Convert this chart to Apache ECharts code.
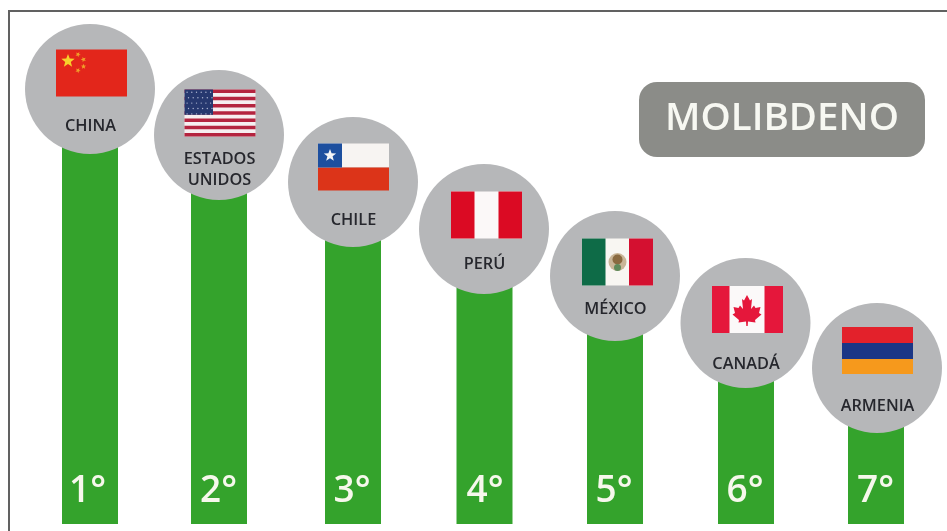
<!DOCTYPE html>
<html>
<head>
<meta charset="utf-8">
<style>
  html, body { margin: 0; padding: 0; background: #fff; }
  #chart { width: 947px; height: 531px; }
</style>
<script src="https://cdn.jsdelivr.net/npm/echarts@6/dist/echarts.min.js"></script>
</head>
<body>
<div id="chart"></div>
<script>
// the picture has no value scale, these are bar heights read off it
var countries = ['CHINA', 'ESTADOS\nUNIDOS', 'CHILE', 'PERÚ', 'MÉXICO', 'CANADÁ', 'ARMENIA'];
var flags = ['china', 'usa', 'chile', 'peru', 'mexico', 'canada', 'armenia'];
var ranks = ['1°', '2°', '3°', '4°', '5°', '6°', '7°'];
var heights = [435, 389, 342, 295, 248, 201, 156];
var title = 'MOLIBDENO';

// layout of the badges, the original is hand placed so the columns are not quite even
var nudgeX = [0, -2, 1, 1.5, 1, 1, 0];
var circleNudgeX = [0, 0, 0, -0.5, 0, -0.5, 1];
var flagLeft = [-34, -34.5, -35, -33, -33, -33.5, -35];
var flagTop = [-39.5, -45.5, -38.5, -37.5, -37.5, -37, -41];
var labelY = [37.5, 35, 38.5, 35.5, 33.5, 41, 38.5];
var rankNudge = [-1.5, 0.5, 0, 1.5, 0, 0, 0.5];

var green = '#34a32c';
var grey = '#b6b7b9';
var FLAG_W = 71;
var FLAG_H = 47;

function rect(x, y, w, h, fill) {
  return { type: 'rect', shape: { x: x, y: y, width: w, height: h }, style: { fill: fill } };
}

function star(cx, cy, r, fill, rot) {
  var pts = [];
  for (var i = 0; i < 10; i++) {
    var rr = i % 2 ? r * 0.42 : r;
    var a = -Math.PI / 2 + (rot || 0) + i * Math.PI / 5;
    pts.push([cx + rr * Math.cos(a), cy + rr * Math.sin(a)]);
  }
  return { type: 'polygon', shape: { points: pts }, style: { fill: fill } };
}

function dot(cx, cy, r, fill) {
  return { type: 'circle', shape: { cx: cx, cy: cy, r: r }, style: { fill: fill } };
}

// flag drawings, origin is the top left corner of the flag
var flagDraw = {
  china: function () {
    var yellow = '#f7d02c', red = '#e3261b';
    return [
      rect(0, 0, FLAG_W, FLAG_H, red),
      star(12, 11.5, 7, yellow),
      star(22, 5, 2.8, '#f0a02a', 0.5),
      star(27.5, 10, 2.8, '#f0a02a', 0.9),
      star(27.5, 17, 2.8, '#f0a02a', 0),
      star(22, 21, 2.8, '#f0a02a', 0.5)
    ];
  },
  usa: function () {
    var out = [rect(0, 0, FLAG_W, FLAG_H, '#f6eef0')];
    var sh = FLAG_H / 13;
    for (var i = 0; i < 13; i += 2) {
      out.push(rect(0, i * sh, FLAG_W, sh, '#b4243f'));
    }
    out.push(rect(0, 0, 28.5, sh * 7, '#26386f'));
    for (var r = 0; r < 5; r++) {
      for (var c = 0; c < 6; c++) {
        out.push(dot(2.6 + c * 4.7 + (r % 2) * 1.4, 2.8 + r * 5.4, 0.7, '#aeb6d2'));
      }
    }
    return out;
  },
  chile: function () {
    return [
      rect(0, 0, FLAG_W, 24, '#f7f4f2'),
      rect(0, 24, FLAG_W, 23, '#dc3419'),
      rect(0, 0, 24, 24, '#1d4f9f'),
      star(12, 12, 6.5, '#f4f4f6')
    ];
  },
  peru: function () {
    return [
      rect(0, 0, FLAG_W, FLAG_H, '#fbf8f8'),
      rect(0, 0, 23.5, FLAG_H, '#db0a23'),
      rect(47.5, 0, 23.5, FLAG_H, '#db0a23')
    ];
  },
  mexico: function () {
    return [
      rect(0, 0, FLAG_W, FLAG_H, '#f8f6f2'),
      rect(0, 0, 23.5, FLAG_H, '#0e6b47'),
      rect(47, 0, 24, FLAG_H, '#d41030'),
      dot(35.5, 23.5, 9, '#c9b597'),
      dot(35.5, 21, 5, '#8a6a40'),
      dot(35.5, 29, 3.5, '#5f8a5a')
    ];
  },
  canada: function () {
    var red = '#e5173b';
    // maple leaf, centred on x = 35
    var half = [[0, 9], [3, 14.5], [5, 13], [4, 23], [7, 19.5], [8.5, 22], [13.5, 21], [12, 27], [14.5, 28.5],
      [8, 34], [8.5, 36.5], [1, 35.5], [0.7, 40]];
    var pts = half.map(function (p) { return [35 + p[0], p[1]]; });
    half.slice().reverse().forEach(function (p) { pts.push([35 - p[0], p[1]]); });
    return [
      rect(0, 0, FLAG_W, FLAG_H, '#fbf9f9'),
      rect(0, 0, 17.5, FLAG_H, red),
      rect(52.5, 0, 18.5, FLAG_H, red),
      { type: 'polygon', shape: { points: pts }, style: { fill: red } }
    ];
  },
  armenia: function () {
    return [
      rect(0, 0, FLAG_W, 16, '#e3212b'),
      rect(0, 16, FLAG_W, 16, '#1b3686'),
      rect(0, 32, FLAG_W, 15, '#f6991c')
    ];
  }
};

function renderBadge(params, api) {
  var i = api.value(0);
  var top = api.coord([i, api.value(1)]);
  var base = api.coord([i, 0]);
  var barX = top[0] + nudgeX[i];
  var cx = barX + circleNudgeX[i];
  var cy = top[1];

  return {
    type: 'group',
    children: [
      rect(barX - 28, cy, 56, base[1] - cy, green),
      { type: 'circle', shape: { cx: cx, cy: cy, r: 65 }, style: { fill: grey } },
      {
        type: 'group',
        x: cx + flagLeft[i],
        y: cy + flagTop[i],
        children: flagDraw[flags[i]]()
      },
      {
        type: 'text',
        style: {
          x: cx + 0.5, y: cy + labelY[i],
          text: countries[i],
          fill: '#26272d',
          font: '600 16.3px "Open Sans"',
          lineHeight: 21,
          align: 'center',
          verticalAlign: 'middle'
        }
      },
      {
        type: 'text',
        style: {
          x: barX - 1 + rankNudge[i], y: base[1] - 33,
          text: ranks[i],
          fill: '#f6f8ec',
          font: '600 37px "Open Sans"',
          align: 'center',
          verticalAlign: 'middle'
        }
      }
    ]
  };
}

var myChart = echarts.init(document.getElementById('chart'));

myChart.setOption({
  backgroundColor: '#fff',
  animation: false,
  grid: { left: 24.5, width: 917, top: 0, height: 524 },
  xAxis: { type: 'category', data: countries, show: false },
  yAxis: { type: 'value', min: 0, max: 524, show: false },
  graphic: [
    { type: 'rect', shape: { x: 8, y: 10, width: 939, height: 2 }, style: { fill: '#616161' } },
    { type: 'rect', shape: { x: 8, y: 10, width: 2, height: 521 }, style: { fill: '#616161' } },
    { type: 'rect', shape: { x: 639, y: 82, width: 286, height: 75, r: 18 }, style: { fill: '#8b8c88' } },
    {
      type: 'text',
      style: {
        x: 782, y: 119,
        text: title,
        fill: '#f7f8f2',
        font: '600 38.5px "Open Sans"',
        align: 'center',
        verticalAlign: 'middle'
      }
    }
  ],
  series: [{
    type: 'custom',
    renderItem: renderBadge,
    encode: { x: 0, y: 1 },
    data: heights.map(function (h, i) { return [i, h]; })
  }]
});
</script>
</body>
</html>
